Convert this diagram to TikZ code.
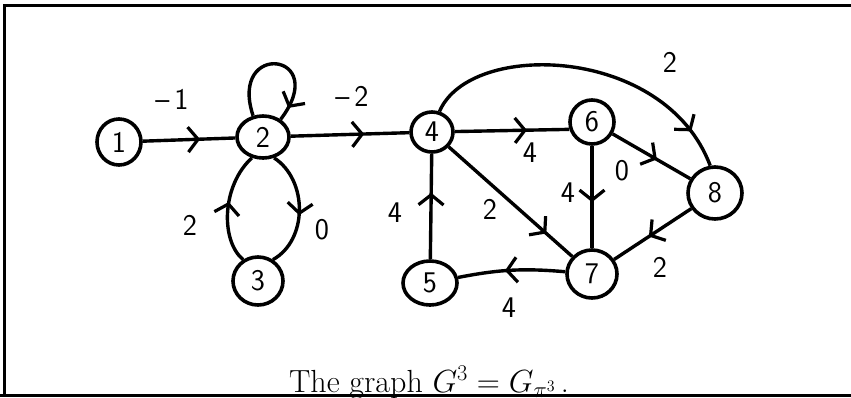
\RequirePackage{fix-cm}
\documentclass[tikz,border=0pt]{standalone}
\usetikzlibrary{shapes.geometric,arrows.meta,decorations.markings}
\begin{document}
\begin{tikzpicture}[x=1pt,y=-1pt,
  vtx/.style={draw,ellipse,line width=3.6pt,inner sep=0pt,font=\fontsize{30}{32}\selectfont\sffamily},
  edge/.style={line width=3.4pt},
  wt/.style={font=\fontsize{30}{32}\selectfont\sffamily,inner sep=0pt},
  chev/.style={postaction={decorate,decoration={markings,mark=at position #1 with {\arrow{Straight Barb[length=10pt,width=25pt,line width=3.2pt]}}}}},
  frame/.style={line width=3pt}]
\useasboundingbox (0,0) rectangle (851,397);
% frame
\draw[frame] (3,5.5) coordinate (fa) -- (851,5.5) coordinate (fb);
\draw[frame] (4.5,4) coordinate (fc) -- (4.5,397) coordinate (fd);
\draw[line width=2.5pt] (0,395.5) coordinate (fe) -- (851,395.5) coordinate (ff);
% nodes
\node[vtx,minimum width=44pt,minimum height=46pt] (n1) at (119,142) {1};
\node[vtx,minimum width=52pt,minimum height=42pt] (n2) at (263,137) {2};
\node[vtx,minimum width=50pt,minimum height=48pt] (n3) at (258,281) {3};
\node[vtx,minimum width=42pt,minimum height=40pt] (n4) at (432,132) {4};
\node[vtx,minimum width=54pt,minimum height=44pt] (n5) at (430,283) {5};
\node[vtx,minimum width=44pt,minimum height=44pt] (n6) at (592,122) {6};
\node[vtx,minimum width=50pt,minimum height=48pt] (n7) at (592,274) {7};
\node[vtx,minimum width=54pt,minimum height=52pt] (n8) at (715,193) {8};
% edges
\draw[edge,chev=0.62] (n1) -- (n2);
\draw[edge,chev=0.9] (n2.115) .. controls (228,40) and (332,52) .. (n2.45);
\draw[edge,chev=0.62] (n2) -- (n4);
\draw[edge,chev=0.55] (n2.-62) .. controls (308,180) and (308,240) .. (n3.55);
\draw[edge,chev=0.55] (n3.125) .. controls (220,240) and (222,185) .. (n2.-118);
\draw[edge,chev=0.63] (n4) -- (n6.198);
\draw[edge,chev=0.63] (n5) -- (n4);
\draw[edge,chev=0.79] (n4) -- (n7);
\draw[edge,chev=0.55] (n6) -- (n7);
\draw[edge,chev=0.57] (n6) -- (n8);
\draw[edge,chev=0.88] (n4.70) .. controls (470,40) and (665,45) .. (n8.100);
\draw[edge,chev=0.55] (n8) -- (n7);
\draw[edge,chev=0.56] (n7) to[bend right=8] (n5);
% weights
\node[wt] (w1) at (172,99) {--\,1};
\node[wt] (w2) at (352,96) {--\,2};
\node[wt] (w3) at (190,225) {2};
\node[wt] (w4) at (322,230) {0};
\node[wt] (w5) at (530,153) {4};
\node[wt] (w6) at (395,213) {4};
\node[wt] (w7) at (490,209) {2};
\node[wt] (w8) at (568,193) {4};
\node[wt] (w9) at (622,171) {0};
\node[wt] (w10) at (670,62) {2};
\node[wt] (w11) at (660,267) {2};
\node[wt] (w12) at (509,308) {4};
% caption
\node[anchor=base,font=\fontsize{32}{38}\selectfont,inner sep=0pt] (cap) at (429,392) {The graph $G^3 = G_{\pi^3}$\,.};
\end{tikzpicture}
\end{document}
